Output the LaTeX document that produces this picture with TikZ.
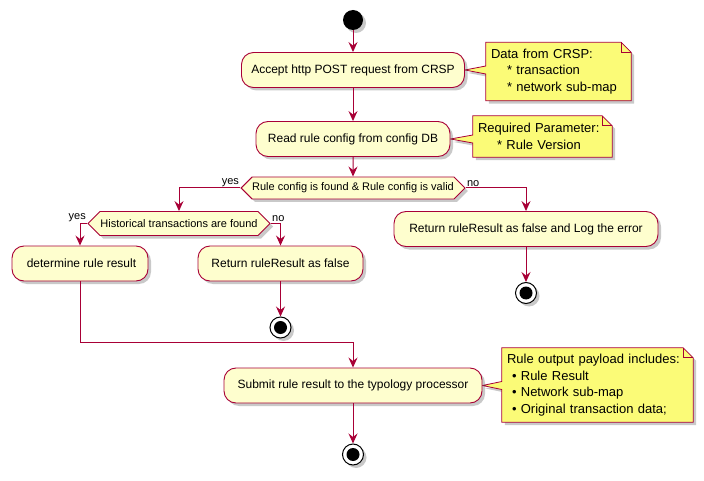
\documentclass[tikz,border=0pt]{standalone}
\usepackage{fontspec}
\setmainfont{Liberation Sans}
\usetikzlibrary{arrows.meta,shapes.symbols,shadows,calc,backgrounds}
\definecolor{umlred}{HTML}{A80036}
\definecolor{umlbox}{HTML}{FEFECE}
\definecolor{umlnote}{HTML}{FBFB77}
\tikzstyle{umlshadow} = [drop shadow={shadow xshift=3pt, shadow yshift=-3pt, opacity=0.3, fill=black!70}]
\tikzstyle{act} = [rectangle, draw=umlred, fill=umlbox, line width=0.9pt, rounded corners=12pt,
    minimum height=35pt, inner sep=0pt, font=\fontsize{12}{14}\selectfont, umlshadow]
\tikzstyle{cond} = [signal, signal to=west and east, signal pointer angle=90, draw=umlred, fill=umlbox,
    line width=0.9pt, minimum height=22pt, inner sep=0pt, font=\fontsize{11}{13}\selectfont, umlshadow]
\tikzstyle{startnode} = [circle, fill=black, minimum size=20pt, inner sep=0pt, umlshadow]
\tikzstyle{stopnode} = [circle, draw=black, fill=white, line width=1pt, minimum size=21pt, inner sep=0pt,
    path picture={\fill[black] (path picture bounding box.center) circle (6.5pt);}, umlshadow]
\tikzstyle{notebox} = [rectangle, inner sep=5pt, align=left, font=\fontsize{13}{16.5}\selectfont]
\tikzstyle{noteline} = [draw=umlred, fill=umlnote, line width=0.8pt, umlshadow]
\tikzstyle{lbl} = [font=\fontsize{11}{13}\selectfont, inner sep=1pt]
\newcommand{\notepath}[2]{%
  \path[noteline] (#1.north west) -- ($(#1.north east)+(-10,0)$) -- ($(#1.north east)+(0,10)$)
    -- (#1.south east) -- (#1.south west) -- ($(#1.west |- #2.east)+(0,4)$) -- (#2.east)
    -- ($(#1.west |- #2.east)+(0,-4)$) -- cycle;
  \draw[umlred, line width=0.8pt] ($(#1.north east)+(-10,0)$) |- ($(#1.north east)+(0,10)$);}

\begin{document}
\begin{tikzpicture}[x=1pt,y=-1pt,node distance=50pt,
                    flow/.style={draw=umlred, line width=1pt, -{Stealth[length=10pt,width=9pt,inset=3.5pt]}}]
  \useasboundingbox (0,0) rectangle (704,481);

  \node[startnode]                (start) at (353,20) {};
  \node[act, minimum width=223pt] (accept) [below of=start] {Accept http POST request from CRSP};
  \node[act, minimum width=194pt] (read) [below of=accept,yshift=-19pt] {Read rule config from config DB};
  \node[cond, minimum width=223pt] (cond1) [below of=read,yshift=1pt] {Rule config is found \& Rule config is valid};
  \node[cond, minimum width=182pt, minimum height=24pt] (cond2) [below of=cond1,xshift=-174pt,yshift=14.5pt] {Historical transactions are found};
  \node[act, minimum width=136pt] (determine) [below of=cond2,xshift=-99pt,yshift=10pt] {\hspace*{3pt}determine rule result};
  \node[act, minimum width=165pt] (retfalse) [right of=determine,xshift=150.5pt] {Return ruleResult as false};
  \node[stopnode]                 (stop2) [below of=retfalse,yshift=-14pt] {};
  \node[act, minimum width=264pt] (logerror) [below of=cond1,xshift=173pt,yshift=9pt] {Return ruleResult as false and Log the error};
  \node[stopnode]                 (stop1) [below of=logerror,yshift=-14pt] {};
  \node[act, minimum width=258pt] (submit) [below of=determine,xshift=273pt,yshift=-72pt] {Submit rule result to the typology processor};
  \node[stopnode]                 (stop3) [below of=submit,yshift=-19pt] {};

  \node[notebox, text width=135pt, minimum height=58pt] (note1) [right of=accept,xshift=155.5pt,yshift=-1.5pt]
    {Data from CRSP:\\\hspace*{16pt}* transaction\\\hspace*{16pt}* network sub-map};
  \node[notebox, text width=129pt, minimum height=41pt] (note2) [right of=read,xshift=139.5pt,yshift=2.5pt]
    {Required Parameter:\\\hspace*{19pt}* Rule Version};
  \node[notebox, text width=181pt, minimum height=74pt] (note3) [right of=submit,xshift=194.5pt,yshift=0.5pt]
    {Rule output payload includes:\\\hspace*{5pt}\textbullet\ Rule Result\\\hspace*{5pt}\textbullet\ Network sub-map\\\hspace*{5pt}\textbullet\ Original transaction data;};

  \begin{scope}[on background layer]
    \notepath{note1}{accept}
    \notepath{note2}{read}
    \notepath{note3}{submit}
  \end{scope}

  \coordinate (merge) at ($(submit.north)+(0,-25)$);

  \path[flow] (start) -- (accept);
  \path[flow] (accept) -- (read);
  \path[flow] (read) -- (cond1);
  \path[flow] (cond1.west) -| node[lbl, pos=0, anchor=south east] {yes} (cond2.north);
  \path[flow] (cond1.east) -| node[lbl, pos=0, anchor=south west] {no} (logerror.north);
  \path[flow] (cond2.west) -| node[lbl, pos=0, anchor=south east] {yes} (determine.north);
  \path[flow] (cond2.east) -| node[lbl, pos=0, anchor=south west] {no} (retfalse.north);
  \path[flow] (retfalse) -- (stop2);
  \path[flow] (logerror) -- (stop1);
  \path[flow] (determine.south) |- (merge) -- (submit.north);
  \path[flow] (submit) -- (stop3);
\end{tikzpicture}
\end{document}
